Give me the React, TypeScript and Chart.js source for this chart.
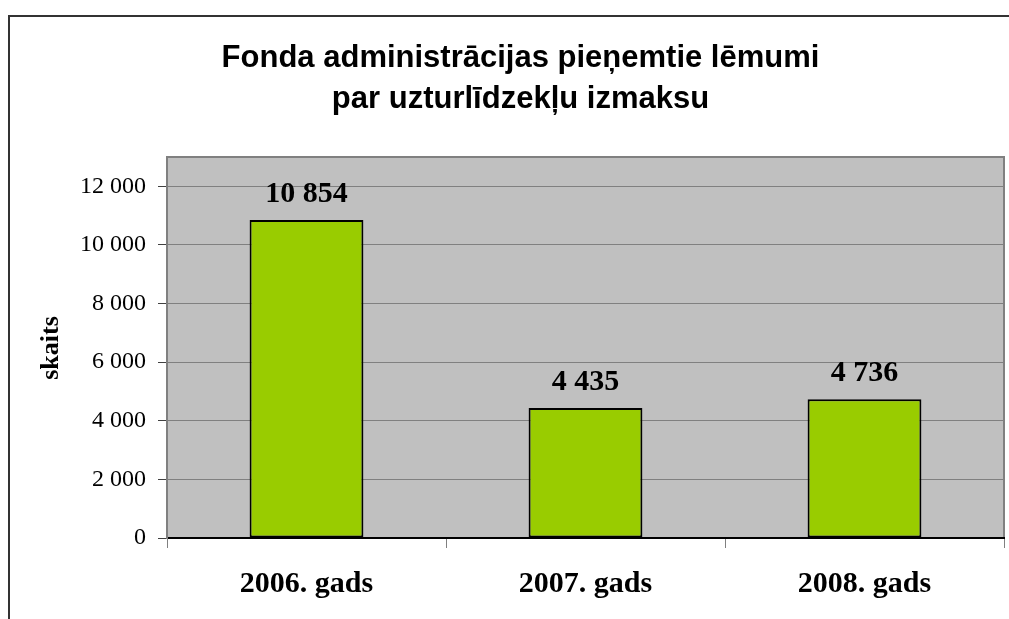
import React, { useEffect, useRef } from "react";
import { Chart, registerables } from "chart.js";

Chart.register(...registerables);

const titleLines = ["Fonda administrācijas pieņemtie lēmumi", "par uzturlīdzekļu izmaksu"];
const categories = ["2006. gads", "2007. gads", "2008. gads"];
const values = [10854, 4435, 4736];
const yAxisTitle = "skaits";
const yMin = 0;
const yMax = 13000;
const yTicks = [0, 2000, 4000, 6000, 8000, 10000, 12000];

const SERIF = '"Liberation Serif", "Times New Roman", serif';
const SANS = '"Liberation Sans", Arial, sans-serif';

const fmt = (n: number) => String(Math.round(n)).replace(/\B(?=(\d{3})+(?!\d))/g, " ");

const decorPlugin = {
  id: "decor",
  beforeDraw(chart: any) {
    const { ctx, chartArea } = chart;
    ctx.save();
    ctx.fillStyle = "#ffffff";
    ctx.fillRect(0, 0, chart.width, chart.height);
    // outer frame
    ctx.strokeStyle = "#333333";
    ctx.lineWidth = 2;
    ctx.strokeRect(9, 16, chart.width + 10, chart.height + 10);
    // plot area
    ctx.fillStyle = "#c0c0c0";
    ctx.fillRect(chartArea.left, chartArea.top, chartArea.right - chartArea.left, chartArea.bottom - chartArea.top);
    ctx.strokeStyle = "#808080";
    ctx.lineWidth = 2;
    ctx.strokeRect(chartArea.left, chartArea.top, chartArea.right - chartArea.left, chartArea.bottom - chartArea.top);
    // title
    ctx.fillStyle = "#000";
    ctx.font = `bold 31px ${SANS}`;
    ctx.textAlign = "center";
    ctx.textBaseline = "alphabetic";
    ctx.fillText(titleLines[0], 520.5, 66.7);
    ctx.fillText(titleLines[1], 520.5, 108.2);
    // y axis title
    ctx.font = `bold 26px ${SERIF}`;
    ctx.translate(51, 348);
    ctx.rotate(-Math.PI / 2);
    ctx.textBaseline = "middle";
    ctx.fillText(yAxisTitle, 0, 0);
    ctx.restore();
  },
  afterDatasetsDraw(chart: any) {
    const { ctx } = chart;
    const meta = chart.getDatasetMeta(0);
    ctx.save();
    ctx.fillStyle = "#000";
    ctx.font = `bold 30px ${SERIF}`;
    ctx.textAlign = "center";
    ctx.textBaseline = "alphabetic";
    meta.data.forEach((bar: any, i: number) => {
      ctx.fillText(fmt(values[i]), bar.x, bar.y - 18);
    });
    ctx.restore();
  },
};

export default function App() {
  const ref = useRef<HTMLCanvasElement | null>(null);
  useEffect(() => {
    document.body.style.margin = "0";
    document.body.style.overflow = "hidden";
    const chart = new Chart(ref.current!, {
      type: "bar",
      data: {
        labels: categories,
        datasets: [
          {
            data: values,
            backgroundColor: "#99cc00",
            borderColor: "#000000",
            borderWidth: 2,
            borderSkipped: false,
            categoryPercentage: 1,
            barPercentage: 0.408,
          },
        ],
      },
      options: {
        responsive: false,
        animation: false,
        events: [],
        layout: { padding: { top: 157, right: 5, left: 0, bottom: 0 } },
        plugins: { legend: { display: false }, title: { display: false }, tooltip: { enabled: false } },
        scales: {
          x: {
            grid: {
              offset: true,
              drawOnChartArea: false,
              drawTicks: true,
              tickLength: 10,
              tickColor: "#808080",
              lineWidth: 1,
              color: "#808080",
            },
            border: { display: true, color: "#000000", width: 2 },
            ticks: {
              padding: 18,
              color: "#000",
              font: { family: SERIF, size: 30, weight: "bold" },
              maxRotation: 0,
            },
            afterFit(scale: any) {
              scale.height = 81;
            },
          },
          y: {
            min: yMin,
            max: yMax,
            grid: {
              color: "#808080",
              lineWidth: 1,
              tickLength: 9,
              tickColor: "#404040",
            },
            border: { display: true, color: "#808080", width: 2 },
            ticks: {
              padding: 12,
              color: "#000",
              font: { family: SERIF, size: 24 },
              callback: (v: any) => fmt(Number(v)),
            },
            afterBuildTicks(scale: any) {
              scale.ticks = yTicks.map((v) => ({ value: v }));
            },
            afterFit(scale: any) {
              scale.width = 167;
            },
          },
        },
      },
      plugins: [decorPlugin],
    });
    return () => chart.destroy();
  }, []);
  return <canvas ref={ref} width={1009} height={619} style={{ display: "block" }} />;
}
